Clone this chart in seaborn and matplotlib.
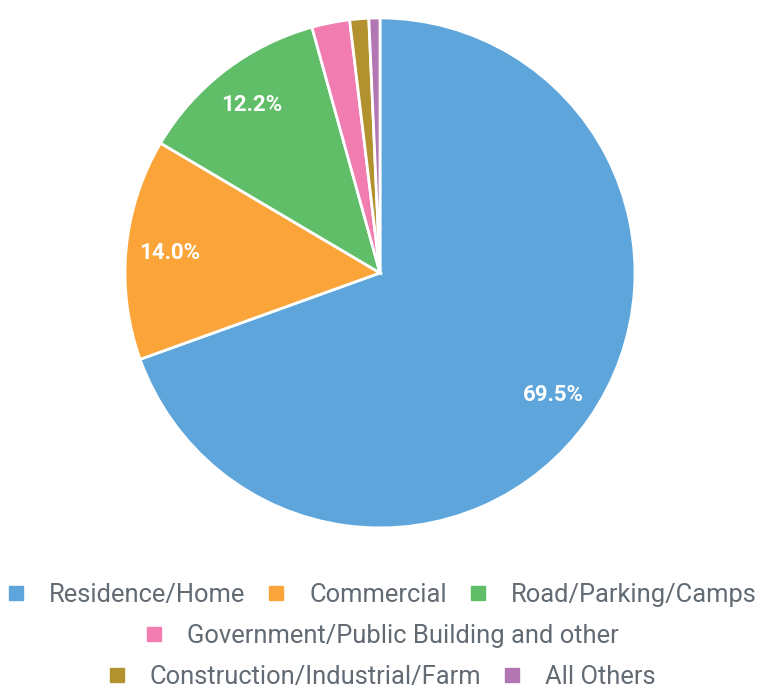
import matplotlib
matplotlib.use("Agg")
import matplotlib.pyplot as plt
from matplotlib.lines import Line2D
import seaborn as sns

categories = ["Residence/Home", "Commercial", "Road/Parking/Camps",
              "Government/Public Building and other",
              "Construction/Industrial/Farm", "All Others"]
shares = [69.5, 14.0, 12.2, 2.4, 1.2, 0.7]
colors = ["#5DA5DA", "#FAA43A", "#60BD68", "#F17CB0", "#B2912F", "#B276B2"]

sns.set_style("white")
plt.rcParams['font.family'] = ['Roboto', 'DejaVu Sans']

fig = plt.figure(figsize=(7.6, 6.91), dpi=100)
ax = fig.add_axes([0.1645, 0.236, 0.671, 0.738])

wedges, texts, autotexts = ax.pie(
    shares, colors=sns.color_palette(colors), startangle=90, counterclock=False,
    autopct=lambda p: f'{p:.1f}%' if p > 5 else '', pctdistance=0.83,
    wedgeprops=dict(edgecolor='white', linewidth=2),
    textprops=dict(color='white', fontsize=16, fontweight='bold'))
ax.set_xlim(-1.0, 1.0)
ax.set_ylim(-1.0, 1.0)
ax.set_aspect('equal')
ax.axis('off')

rows = [[0, 1, 2], [3], [4, 5]]
row_y = [0.139, 0.080, 0.020]
for idx, y in zip(rows, row_y):
    handles = [Line2D([], [], marker='s', linestyle='none', markersize=10,
                      markerfacecolor=colors[i], markeredgecolor=colors[i])
               for i in idx]
    leg = fig.legend(handles, [categories[i] for i in idx], loc='center',
                     bbox_to_anchor=(0.5, y), ncol=len(idx), frameon=False,
                     fontsize=18.4, handletextpad=0.8, columnspacing=0.7,
                     handlelength=1.0, labelcolor='#626a73')

fig.savefig("out.png", dpi=100)
